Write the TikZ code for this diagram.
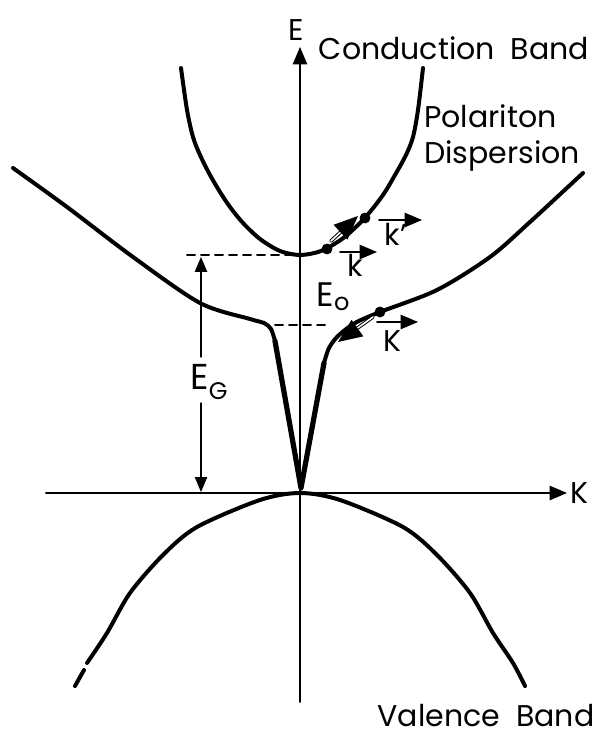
\documentclass[tikz,border=0pt]{standalone}
\usepackage{fontspec}
\setmainfont{Poppins}
\usetikzlibrary{arrows}

\begin{document}
\begin{tikzpicture}[line cap=round,line join=round,>=triangle 45,x=0.5pt,y=0.5pt,
	bande/.style={line width=2pt},
	axe/.style={line width=1pt},
	pointille/.style={line width=1pt,dash pattern=on 4pt off 3pt},
	saut/.style={->,double,double distance=0.8pt,line width=0.5pt},
	lab/.style={font=\fontsize{15}{18}\selectfont,inner sep=1pt}]
		\useasboundingbox (-300,-244) rectangle (295,493);
		% axes
		\coordinate (O) at (0,0);
		\coordinate (Kg) at (-254,0);
		\coordinate (Kd) at (267,0);
		\coordinate (Eb) at (0,-209);
		\coordinate (Eh) at (0,446);
		\draw[axe,->] (Kg)--(Kd);
		\draw[axe,->] (Eb)--(Eh);
		\node[lab] (E) at (-4,463) {E};
		\node[lab] (K) at (279,0) {K};
		% bande de conduction
		\draw[bande] plot[smooth] coordinates {(-119,425) (-113,383) (-107,356) (-100,338) (-90,318) (-80,301) (-70,286) (-57,270) (-40,254) (-20,242) (0,238) (21,242) (42,254) (60,270) (74,286) (85,301) (95,318) (106,338) (113,356) (118,383) (123,425)};
		% polariton
		\draw[bande] plot[smooth] coordinates {(-287,325) (-233,286) (-167,236) (-100,190) (-50,174) (-36,170) (-29,164) (-25,152)};
		\draw[line width=2.6pt] (-25,152)--(1,5)--(24,130);
		\draw[bande] plot[smooth] coordinates {(24,130) (29,145) (38,157) (55,170) (80,181) (137,203) (190,236) (230,271) (283,320)};
		% bande de valence
		\draw[bande] (-225,-193)--(-216,-177);
		\draw[bande] plot[smooth] coordinates {(-213,-170) (-193,-140) (-170,-100) (-137,-62) (-103,-34) (-40,-7) (0,0) (40,-7) (103,-34) (137,-62) (170,-100) (193,-140) (213,-170) (225,-193)};
		% niveaux
		\coordinate (Ec) at (-113,238);
		\coordinate (Ep) at (-25,168);
		\draw[pointille] (Ec)--(0,238);
		\draw[pointille] (Ep)--(25,168);
		% gap
		\node[lab,font=\fontsize{18}{20}\selectfont] (EG) at (-91,111) {E\raisebox{-5pt}{\fontsize{12}{12}\selectfont G}};
		\coordinate (EGh) at (-99,236);
		\coordinate (EGb) at (-99,1);
		\coordinate (EG1) at (-99,136);
		\coordinate (EG2) at (-99,90);
		\draw[line width=0.7pt,->] (EG1)--(EGh);
		\draw[line width=0.7pt,->] (EG2)--(EGb);
		\node[lab,font=\fontsize{17}{20}\selectfont] (E0) at (33,196) {E\raisebox{-2pt}{\fontsize{12}{12}\selectfont o}};
		% transitions
		\coordinate (A) at (27,244);
		\coordinate (B) at (65,275);
		\coordinate (C) at (80,181);
		\draw[saut] (31,252)--(58,277);
		\draw[saut] (73,176)--(38,151);
		\filldraw (A) circle (5);
		\filldraw (B) circle (5);
		\filldraw (C) circle (5);
		% vecteurs
		\coordinate (k1) at (40,241);
		\coordinate (k2) at (77,241);
		\coordinate (kp1) at (79,273);
		\coordinate (kp2) at (122,273);
		\coordinate (K1) at (77,171);
		\coordinate (K2) at (118,171);
		\draw[axe,->] (k1)--(k2);
		\draw[axe,->] (kp1)--(kp2);
		\draw[axe,->] (K1)--(K2);
		\node[lab] (k) at (55,228) {k};
		\node[lab] (kp) at (96,259) {k'};
		\node[lab] (Kv) at (92,152) {K};
		% textes
		\node[lab] (cb) at (154,445) {Conduction\ \ Band};
		\node[lab,align=left,anchor=west] (pd) at (122,355) {Polariton\\Dispersion};
		\node[lab] (vb) at (186,-223) {Valence\ \ Band};
		\end{tikzpicture}
\end{document}
